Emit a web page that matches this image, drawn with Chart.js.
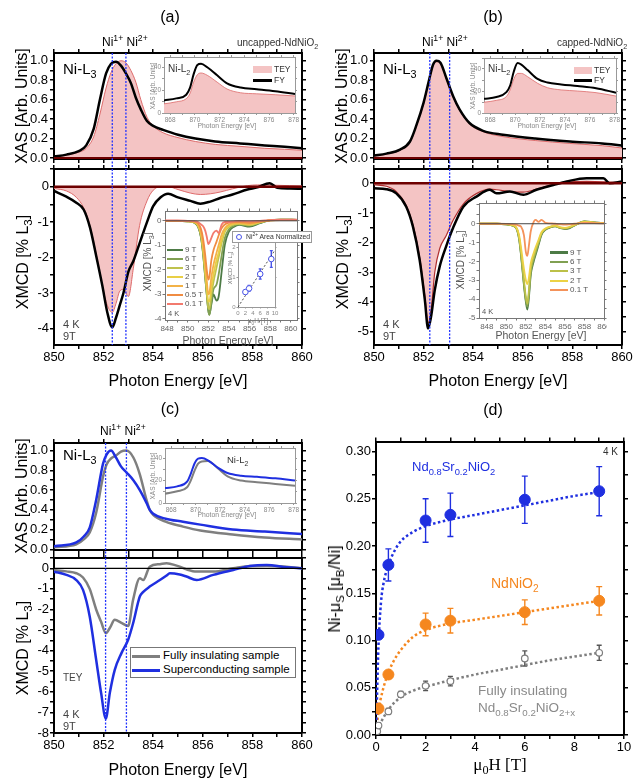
<!DOCTYPE html>
<html>
<head>
<meta charset="utf-8">
<script src="https://cdn.jsdelivr.net/npm/chart.js@4.4.0/dist/chart.umd.min.js"></script>
<style>
  body { margin: 0; background: #fff; }
  #fig { position: relative; width: 641px; height: 779px; overflow: hidden; font-family: "Liberation Sans", Arial, sans-serif; color: #000; }
  canvas { position: absolute; }
  .t { position: absolute; white-space: nowrap; line-height: 1; }
  .t sub, .t sup { font-size: 72%; line-height: 0; }
  .box { position: absolute; }
</style>
</head>
<body>
<div id="fig"></div>
<script>
// ---- (a) uncapped NdNiO2, Ni-L3 XAS ----
const aXasE = [850, 850.5, 851, 851.3, 851.6, 851.85, 852.1, 852.3, 852.5, 852.7, 852.9, 853.1, 853.3, 853.5, 853.75, 854, 854.4, 855, 855.7, 856.5, 857.5, 858.5, 859.3, 860];
const aXasFY = [0.015, 0.035, 0.07, 0.13, 0.3, 0.6, 0.87, 0.97, 0.99, 0.95, 0.87, 0.77, 0.62, 0.5, 0.38, 0.33, 0.29, 0.24, 0.2, 0.17, 0.15, 0.13, 0.115, 0.1];
const aXasTEY = [0.01, 0.03, 0.06, 0.1, 0.22, 0.45, 0.72, 0.88, 0.97, 1.0, 0.98, 0.9, 0.78, 0.6, 0.42, 0.33, 0.26, 0.21, 0.17, 0.14, 0.12, 0.1, 0.09, 0.08];
// (a) XMCD at 9 T
const aMcdE = [850, 850.5, 850.9, 851.2, 851.45, 851.7, 851.95, 852.15, 852.35, 852.5, 852.65, 852.8, 853.0, 853.2, 853.45, 853.75, 854.0, 854.3, 854.6, 855.0, 855.5, 855.9, 856.3, 856.7, 857.2, 857.8, 858.2, 858.7, 859.0, 859.5, 860];
const aMcdFY = [-0.12, -0.28, -0.45, -0.65, -1.15, -1.95, -2.8, -3.55, -3.97, -3.7, -3.35, -3.0, -2.4, -2.1, -1.6, -1.0, -0.55, -0.3, -0.2, -0.3, -0.4, -0.48, -0.42, -0.32, -0.22, -0.08, -0.02, 0.1, -0.03, -0.05, -0.06];
const aMcdTEY = [-0.05, -0.12, -0.3, -0.6, -1.1, -1.9, -2.8, -3.35, -3.55, -3.3, -2.95, -2.9, -3.1, -2.3, -1.1, -0.4, -0.1, 0.0, 0.0, -0.08, -0.18, -0.22, -0.2, -0.15, -0.06, 0.03, 0.05, 0.05, 0.04, 0.03, 0.02];
const aRefE = [852.35, 852.9];

// ---- Ni-L2 insets (shared energy grid) ----
const l2E = [867.5, 868.5, 869.3, 869.6, 869.9, 870.2, 870.5, 871, 871.8, 872.6, 873.7, 875, 876.5, 878.1];
const aL2FY = [11, 12.8, 16, 22, 34, 42, 43, 40, 33, 26, 22.3, 20.8, 19, 16.6];
const aL2TEY = [8, 9.8, 12.5, 17, 27, 33.5, 35, 33, 27, 21, 17.7, 16.8, 16, 14.9];
const bL2FY = [12.9, 14.5, 19, 25, 38, 45.5, 44, 39, 31, 27.7, 26, 24.5, 22.5, 18.5];
const bL2TEY = [9.8, 11.5, 15, 21, 31, 36, 36, 33, 27, 23, 21, 20, 18.5, 15.4];
const cL2SC = [13.3, 14.8, 19, 26, 35, 39.5, 40, 38, 31.5, 26.7, 24.3, 23.3, 22, 20];
const cL2FI = [8.3, 10.4, 14, 20, 28.5, 35, 37, 37.5, 31, 23.7, 20, 18.5, 17, 15.4];

// ---- (a) inset: XMCD vs field ----
const aInsE = [847.8, 849, 850, 850.5, 851, 851.3, 851.5, 851.7, 851.85, 852, 852.1, 852.3, 852.5, 852.8, 853, 853.3, 853.6, 854, 854.5, 855, 856, 857, 858, 859, 860.6];
const aIns9T = [0, 0, -0.02, -0.05, -0.24, -0.7, -1.38, -2.3, -3.0, -3.66, -3.82, -3.4, -3.0, -3.26, -3.1, -2.05, -0.98, -0.44, -0.24, -0.17, -0.24, -0.1, 0.03, 0.05, 0.04];
const aIns6T = [0, 0, -0.02, -0.05, -0.22, -0.68, -1.35, -2.3, -3.0, -3.65, -3.85, -3.3, -2.8, -2.6, -2.2, -1.4, -0.7, -0.35, -0.2, -0.15, -0.2, -0.08, 0.03, 0.05, 0.04];
const aIns3T = [0, 0, -0.02, -0.05, -0.2, -0.6, -1.25, -2.2, -2.9, -3.55, -3.6, -3.0, -2.5, -1.9, -1.5, -0.9, -0.45, -0.25, -0.15, -0.12, -0.18, -0.06, 0.03, 0.05, 0.04];
const aIns2T = [0, 0, -0.02, -0.04, -0.18, -0.55, -1.15, -2.0, -2.7, -3.3, -3.3, -2.7, -2.2, -1.6, -1.3, -0.75, -0.4, -0.2, -0.12, -0.1, -0.15, -0.05, 0.02, 0.04, 0.04];
const aIns1T = [0, 0, -0.01, -0.03, -0.15, -0.5, -1.0, -1.8, -2.45, -3.0, -2.95, -2.3, -1.8, -1.3, -1.0, -0.55, -0.3, -0.15, -0.1, -0.08, -0.12, -0.04, 0.02, 0.04, 0.03];
const aIns05T = [0, 0, -0.01, -0.02, -0.1, -0.35, -0.75, -1.4, -2.0, -2.4, -2.3, -1.6, -1.2, -0.85, -0.6, -0.3, -0.15, -0.08, -0.05, -0.05, -0.08, -0.03, 0.02, 0.03, 0.03];
const aIns01T = [0.02, 0.02, 0.0, -0.01, -0.05, -0.15, -0.22, -0.4, -0.65, -0.95, -0.9, -0.7, -0.5, -0.4, -0.5, -0.15, -0.05, -0.05, -0.02, 0.0, -0.02, 0.0, 0.03, 0.05, 0.05];
const aInsLabels = ["9 T", "6 T", "3 T", "2 T", "1 T", "0.5 T", "0.1 T"];
const aInsColors = ["#4d7b46", "#80a052", "#bfc24e", "#e9cf45", "#f3b247", "#f08c42", "#f27a6e"];
// nested inset: Ni2+ area normalized
const nestH = [2, 3, 6, 9];
const nestV = [0.5, 0.62, 1.1, 1.6];
const nestErr = [0.08, 0.1, 0.17, 0.28];
const nestLineH = [0, 10];
const nestLineV = [0, 1.9];

// ---- (b) capped NdNiO2 ----
const bXasE = [850, 850.5, 851.05, 851.45, 851.7, 852, 852.2, 852.38, 852.52, 852.68, 852.92, 853.2, 853.45, 853.85, 854.4, 855.2, 856.5, 857.9, 859.2, 860];
const bXasFY = [0.024, 0.045, 0.086, 0.17, 0.33, 0.57, 0.78, 0.96, 1.0, 0.98, 0.82, 0.63, 0.5, 0.36, 0.28, 0.24, 0.2, 0.17, 0.15, 0.13];
const bXasTEY = [0.02, 0.04, 0.08, 0.16, 0.32, 0.56, 0.77, 0.95, 0.99, 0.97, 0.81, 0.62, 0.49, 0.35, 0.27, 0.22, 0.18, 0.15, 0.127, 0.103];
const bMcdE = [850, 850.5, 850.9, 851.3, 851.57, 851.84, 852.05, 852.18, 852.3, 852.45, 852.65, 852.92, 853.19, 853.6, 854.13, 854.67, 854.94, 855.48, 856.02, 856.55, 857.23, 857.77, 858.57, 859.25, 859.5, 860];
const bMcdFY = [-0.17, -0.2, -0.34, -0.79, -1.46, -2.58, -3.93, -4.89, -4.5, -3.6, -2.8, -2.1, -1.5, -0.79, -0.45, -0.22, -0.34, -0.28, -0.39, -0.22, -0.06, 0.06, 0.17, 0.17, 0.0, 0.06];
const bMcdTEY = [-0.05, -0.1, -0.28, -0.75, -1.4, -2.5, -3.8, -4.7, -4.3, -3.0, -2.2, -1.75, -1.25, -0.7, -0.35, -0.2, -0.22, -0.28, -0.3, -0.2, -0.04, 0.04, 0.06, 0.05, 0.04, 0.03];
const bRefE = [852.25, 853.05];
const bInsE = [847.2, 849, 850, 850.5, 851, 851.3, 851.5, 851.8, 852, 852.15, 852.3, 852.5, 852.8, 853, 853.3, 853.6, 854, 854.5, 855, 855.5, 856, 856.5, 857, 858, 859, 860];
const bIns9T = [0, 0, -0.03, -0.08, -0.23, -0.8, -1.65, -3.25, -4.15, -4.55, -3.97, -2.72, -2.0, -1.65, -1.12, -0.59, -0.32, -0.2, -0.14, -0.23, -0.28, -0.23, -0.09, 0.12, 0.07, 0.04];
const bIns6T = [0, 0, -0.03, -0.08, -0.22, -0.75, -1.6, -3.15, -4.05, -4.4, -3.8, -2.6, -1.9, -1.55, -1.05, -0.55, -0.3, -0.18, -0.13, -0.22, -0.26, -0.2, -0.08, 0.12, 0.07, 0.04];
const bIns3T = [0, 0, -0.03, -0.07, -0.2, -0.7, -1.5, -3.0, -3.9, -4.25, -3.6, -2.4, -1.75, -1.4, -0.95, -0.5, -0.28, -0.16, -0.12, -0.2, -0.24, -0.18, -0.07, 0.11, 0.06, 0.04];
const bIns2T = [0, 0, -0.02, -0.06, -0.18, -0.6, -1.25, -2.4, -3.0, -3.2, -2.9, -2.1, -1.55, -1.25, -0.85, -0.45, -0.25, -0.15, -0.1, -0.18, -0.22, -0.16, -0.06, 0.1, 0.06, 0.04];
const bIns01T = [0, 0, -0.01, -0.02, -0.05, -0.1, -0.15, -0.6, -1.5, -1.7, -1.2, -0.4, 0.1, 0.2, 0.1, 0.2, 0.05, 0.02, 0.0, -0.03, -0.05, -0.03, 0.0, 0.05, 0.03, 0.02];
const bInsLabels = ["9 T", "6 T", "3 T", "2 T", "0.1 T"];
const bInsColors = ["#4d7b46", "#80a052", "#bcc048", "#ecd245", "#f4925a"];

// ---- (c) fully insulating vs superconducting ----
const cXasE = [850, 850.9, 851.2, 851.44, 851.7, 851.98, 852.12, 852.3, 852.5, 852.7, 852.92, 853.2, 853.46, 853.73, 853.86, 854.0, 854.5, 855.2, 855.9, 857.2, 858.5, 860];
const cXasSC = [0.03, 0.07, 0.13, 0.22, 0.5, 0.87, 0.96, 1.0, 0.93, 0.84, 0.78, 0.7, 0.6, 0.47, 0.4, 0.36, 0.31, 0.28, 0.25, 0.2, 0.18, 0.155];
const cXasFI = [0.02, 0.05, 0.1, 0.17, 0.37, 0.74, 0.86, 0.92, 0.95, 0.99, 1.0, 0.93, 0.76, 0.5, 0.4, 0.35, 0.28, 0.23, 0.19, 0.15, 0.12, 0.1];
const cMcdE = [850, 850.5, 850.9, 851.17, 851.44, 851.7, 851.9, 852.09, 852.25, 852.45, 852.72, 852.99, 853.19, 853.46, 853.6, 853.86, 854.27, 854.54, 854.67, 855.07, 855.34, 855.75, 856.42, 857.23, 857.9, 858.57, 859.38, 860];
const cMcdSC = [-0.16, -0.32, -0.57, -1.05, -2.34, -4.44, -6.06, -7.3, -6.06, -4.93, -4.12, -3.47, -2.67, -1.37, -1.15, -0.89, -0.57, -0.35, -0.24, -0.3, -0.4, -0.57, -0.32, -0.08, 0.11, 0.16, 0.05, 0.0];
const cMcdFI = [-0.08, -0.15, -0.24, -0.45, -1.0, -2.0, -2.6, -3.15, -2.9, -2.5, -2.65, -2.8, -1.53, -0.48, -0.57, 0.08, 0.2, 0.24, 0.22, 0.08, -0.05, -0.16, -0.16, 0.0, 0.11, 0.12, 0.08, 0.0];
const cRefE = [852.08, 852.92];

// ---- (d) spin moment vs field ----
const dBlueH = [0.1, 0.5, 2, 3, 6, 9];
const dBlueV = [0.106, 0.18, 0.227, 0.233, 0.249, 0.258];
const dBlueErr = [0, 0.017, 0.023, 0.023, 0.025, 0.026];
const dOrangeH = [0.1, 0.5, 2, 3, 6, 9];
const dOrangeV = [0.028, 0.064, 0.117, 0.121, 0.13, 0.142];
const dOrangeErr = [0, 0, 0.012, 0.013, 0.013, 0.015];
const dGrayH = [0.05, 0.1, 0.5, 1, 2, 3, 6, 9];
const dGrayV = [0.004, 0.01, 0.025, 0.043, 0.052, 0.057, 0.081, 0.087];
const dGrayErr = [0, 0.003, 0.003, 0.003, 0.005, 0.005, 0.008, 0.008];
const dBlueFitH = [0, 0.05, 0.1, 0.2, 0.3, 0.5, 0.75, 1, 1.5, 2, 3, 4, 5, 6, 7, 8, 9];
const dBlueFitV = [0, 0.05, 0.095, 0.14, 0.16, 0.18, 0.195, 0.205, 0.215, 0.221, 0.228, 0.233, 0.238, 0.243, 0.248, 0.253, 0.257];
const dOrangeFitH = [0, 0.1, 0.25, 0.5, 0.75, 1, 1.5, 2, 3, 4, 5, 6, 7, 8, 9];
const dOrangeFitV = [0, 0.025, 0.045, 0.066, 0.08, 0.09, 0.104, 0.111, 0.118, 0.122, 0.126, 0.13, 0.134, 0.138, 0.142];
const dGrayFitH = [0, 0.1, 0.25, 0.5, 1, 1.5, 2, 3, 4, 5, 6, 7, 8, 9];
const dGrayFitV = [0, 0.008, 0.016, 0.027, 0.04, 0.047, 0.051, 0.058, 0.064, 0.069, 0.074, 0.079, 0.083, 0.087];

const BLUE = "#1f2fe0", ORANGE = "#f5871f", GRAY = "#7f7f7f";
const PINK = "#f4c4c4", PINKEDGE = "#dd6a6a", MAROON = "#6e0000";

const fig = document.getElementById("fig");
Chart.defaults.font.family = '"Liberation Sans", Arial, sans-serif';
Chart.defaults.color = "#000";

// reference lines: dotted Ni1+/Ni2+ markers and zero lines
Chart.register({
  id: "refs",
  afterDatasetsDraw(chart, args, o) {
    const { ctx, chartArea: a, scales } = chart;
    ctx.save();
    (o.h || []).forEach((v) => {
      const y = scales.y.getPixelForValue(v);
      ctx.strokeStyle = o.hColor || "#000";
      ctx.lineWidth = o.hWidth || 1;
      ctx.setLineDash([]);
      ctx.beginPath(); ctx.moveTo(a.left, y); ctx.lineTo(a.right, y); ctx.stroke();
    });
    (o.v || []).forEach((v) => {
      const x = scales.x.getPixelForValue(v);
      ctx.strokeStyle = "#2233ff";
      ctx.lineWidth = 1.3;
      ctx.setLineDash([2, 1.5]);
      ctx.beginPath(); ctx.moveTo(x, a.top); ctx.lineTo(x, a.bottom + (o.down || 0)); ctx.stroke();
    });
    ctx.restore();
  },
});

// error bars from dataset.errors
Chart.register({
  id: "errbars",
  beforeDatasetsDraw(chart) {
    const ctx = chart.ctx;
    chart.data.datasets.forEach((ds, i) => {
      if (!ds.errors) return;
      const meta = chart.getDatasetMeta(i);
      ctx.save();
      ctx.strokeStyle = ds.errColor || ds.borderColor;
      ctx.lineWidth = 1.4;
      meta.data.forEach((p, j) => {
        const e = ds.errors[j];
        if (!e) return;
        const v = ds.data[j].y;
        const y1 = chart.scales.y.getPixelForValue(v + e);
        const y2 = chart.scales.y.getPixelForValue(v - e);
        const c = ds.cap || 3;
        ctx.beginPath();
        ctx.moveTo(p.x, y1); ctx.lineTo(p.x, y2);
        ctx.moveTo(p.x - c, y1); ctx.lineTo(p.x + c, y1);
        ctx.moveTo(p.x - c, y2); ctx.lineTo(p.x + c, y2);
        ctx.stroke();
      });
      ctx.restore();
    });
  },
});

// white plot area for insets
Chart.register({
  id: "areabg",
  beforeDraw(chart, args, o) {
    if (!o.color) return;
    const a = chart.chartArea;
    chart.ctx.save();
    chart.ctx.fillStyle = o.color;
    chart.ctx.fillRect(a.left, a.top, a.right - a.left, a.bottom - a.top);
    chart.ctx.restore();
  },
});

function pts(xs, ys) {
  return xs.map((x, i) => ({ x: x, y: ys[i] }));
}

function ln(data, color, w, extra) {
  return Object.assign({ data: data, borderColor: color, backgroundColor: color, borderWidth: w, pointRadius: 0, fill: false, cubicInterpolationMode: "monotone" }, extra || {});
}

function dots(data, color, r, extra) {
  return Object.assign({ data: data, showLine: false, pointRadius: r, pointBackgroundColor: color, pointBorderColor: color, borderColor: color, backgroundColor: color, pointBorderWidth: 1 }, extra || {});
}

const evenLabel = (v) => (Math.round(v) % 2 === 0 ? String(v) : "");
const xasLabel = (v) => (Math.round(v * 10) % 2 === 0 ? v.toFixed(1) : "");
const intLabel = (v) => (Number.isInteger(v) ? String(v) : "");
const negIntLabel = (v) => (Number.isInteger(v) && v <= 0 ? String(v) : "");
const l2YLabel = (v) => (Math.round(v) % 20 === 0 ? String(v) : "");
const momLabel = (v) => (Math.round(v * 1000) % 50 === 0 ? v.toFixed(2) : "");

// box = [left, top, right, bottom] of plot area; m = [left, right, top, bottom] axis room
function plot(box, m, xs, ys, datasets, o) {
  o = o || {};
  const cv = document.createElement("canvas");
  cv.width = box[2] - box[0] + m[0] + m[1];
  cv.height = box[3] - box[1] + m[2] + m[3];
  cv.style.left = box[0] - m[0] + "px";
  cv.style.top = box[1] - m[2] + "px";
  fig.appendChild(cv);
  const col = o.frame || "#000";
  const grid = { drawOnChartArea: false, tickLength: o.tick || 4, color: col, lineWidth: o.tickW || 1.5 };
  const border = { width: o.bw || 2, color: col };
  const tk = (s, cb, show) => {
    const t = { stepSize: s, includeBounds: false, autoSkip: false, maxRotation: 0, minRotation: 0, padding: o.pad === undefined ? 2 : o.pad, color: o.tc || "#000", font: { size: o.fs || 13 }, display: show };
    if (cb) t.callback = cb;
    return t;
  };
  const fitH = (h) => (s) => { s.height = h; s.paddingLeft = 0; s.paddingRight = 0; };
  const fitW = (w) => (s) => { s.width = w; s.paddingTop = 0; s.paddingBottom = 0; };
  return new Chart(cv, {
    type: "line",
    data: { datasets: datasets },
    options: {
      responsive: false,
      animation: false,
      events: [],
      layout: { padding: 0 },
      plugins: {
        legend: { display: false },
        tooltip: { enabled: false },
        refs: o.refs || {},
        areabg: o.bg ? { color: o.bg } : {},
      },
      scales: {
        x: { type: "linear", position: "bottom", min: xs[0], max: xs[1], afterFit: fitH(m[3]), grid: grid, border: border, ticks: tk(xs[2], xs[3], o.xlab !== false) },
        x2: { type: "linear", position: "top", min: xs[0], max: xs[1], afterFit: fitH(m[2]), grid: grid, border: border, ticks: tk(xs[2], null, false) },
        y: { type: "linear", position: "left", min: ys[0], max: ys[1], afterFit: fitW(m[0]), grid: grid, border: border, ticks: tk(ys[2], ys[3], true) },
        y2: { type: "linear", position: "right", min: ys[0], max: ys[1], afterFit: fitW(m[1]), grid: grid, border: border, ticks: tk(ys[2], null, false) },
      },
    },
  });
}

function txt(html, x, y, st) {
  const d = document.createElement("div");
  d.className = "t";
  d.innerHTML = html;
  d.style.cssText += "left:" + x + "px;top:" + y + "px;" + (st || "");
  fig.appendChild(d);
  return d;
}
function rect(x, y, w, h, st) {
  const d = document.createElement("div");
  d.className = "box";
  d.style.cssText = "left:" + x + "px;top:" + y + "px;width:" + w + "px;height:" + h + "px;" + st;
  fig.appendChild(d);
}
const C = "transform:translate(-50%,-50%);";
const R = "transform:translate(-50%,-50%) rotate(-90deg);";
const insetOpt = { frame: "#999", bw: 1, tick: 2, tickW: 1, fs: 6.5, tc: "#888", pad: 1, bg: "#fff" };
const mcdInsetOpt = { frame: "#777", bw: 1, tick: 2.5, tickW: 1, fs: 8, tc: "#666", pad: 1, bg: "#fff", refs: { h: [0], hColor: "#444", hWidth: 1 } };

// ================= panel (a) =================
plot([54, 53, 302, 159], [40, 6, 6, 10], [850, 860, 1, evenLabel], [-0.01, 1.08, 0.1, xasLabel], [
  ln(pts(aXasE, aXasFY), "#000", 2.5, { order: 0 }),
  ln(pts(aXasE, aXasTEY), PINKEDGE, 1, { order: 1, fill: "origin", backgroundColor: PINK }),
], { xlab: false, refs: { v: aRefE, down: 10, h: [0], hColor: MAROON, hWidth: 2 } });

plot([54, 169, 302, 345], [40, 16, 5, 45], [850, 860, 1, evenLabel], [-4.47, 0.5, 0.5, intLabel], [
  ln(pts(aMcdE, aMcdFY), "#000", 2.5, { order: 0 }),
  ln(pts(aMcdE, aMcdTEY), PINKEDGE, 1, { order: 1, fill: "origin", backgroundColor: PINK }),
], { pad: 1, refs: { v: aRefE, h: [0], hColor: MAROON, hWidth: 2.5 } });

plot([164, 57, 295, 113], [14, 8, 2, 10], [867.5, 878.1, 1, evenLabel], [0, 49, 10, l2YLabel], [
  ln(pts(l2E, aL2FY), "#000", 2, { order: 0 }),
  ln(pts(l2E, aL2TEY), PINKEDGE, 0.8, { order: 1, fill: "origin", backgroundColor: PINK }),
], insetOpt);

plot([165, 211, 297, 320], [12, 3, 3, 12], [847.8, 860.6, 1, evenLabel], [-4.05, 0.4, 0.5, negIntLabel],
  [aIns9T, aIns6T, aIns3T, aIns2T, aIns1T, aIns05T, aIns01T].map((v, i) => ln(pts(aInsE, v), aInsColors[i], 1.8, { order: 6 - i })),
  mcdInsetOpt);

plot([238, 238, 278, 307], [8, 2, 2, 9], [0, 10, 2], [0, 2.2, 1], [
  dots(pts(nestH, nestV), "#4a55e8", 2.8, { pointBackgroundColor: "#fff", errors: nestErr, cap: 1.5, order: 0 }),
  ln(pts(nestLineH, nestLineV), "#222", 0.8, { borderDash: [2, 2], order: 1 }),
], { frame: "#999", bw: 1, tick: 1.5, tickW: 1, fs: 6, tc: "#888", pad: 1, bg: "#fff" });

txt("(a)", 170, 17, C + "font-size:16px");
txt("Ni<sup>1+</sup> Ni<sup>2+</sup>", 102, 36, "font-size:12px");
txt("uncapped-NdNiO<sub>2</sub>", 237, 38, "font-size:10px;color:#333");
txt("Ni-L<sub>3</sub>", 63, 61, "font-size:15px");
txt("XAS [Arb. Units]", 22, 106, R + "font-size:16px");
txt("XMCD [% L<sub>3</sub>]", 23, 262, R + "font-size:16px");
txt("Photon Energy [eV]", 178, 381, C + "font-size:16px");
txt("4 K", 63, 319, "font-size:11px;color:#444");
txt("9T", 63, 331, "font-size:11px;color:#444");
txt("Ni-L<sub>2</sub>", 168, 64, "font-size:10px;color:#333");
rect(253, 66, 19, 7, "background:" + PINK);
txt("TEY", 274, 65, "font-size:8.5px;color:#333");
rect(253, 79, 19, 2.5, "background:#000");
txt("FY", 274, 76, "font-size:8.5px;color:#333");
txt("Photon Energy [eV]", 227, 125.5, C + "font-size:6.8px;color:#888");
txt("XAS [Arb. Units]", 153, 86, R + "font-size:6.5px;color:#888");
txt("Photon Energy [eV]", 228, 340, C + "font-size:10.5px;color:#555");
txt("XMCD [% L<sub>3</sub>]", 148, 262, R + "font-size:10px;color:#555");
txt("4 K", 168, 310, "font-size:7.5px;color:#555");
aInsLabels.forEach((s, i) => {
  const y = 250 + i * 9;
  rect(167, y - 1.2, 16, 2.4, "background:" + aInsColors[i]);
  txt(s, 185, y - 4, "font-size:8px;color:#555");
});
txt("μ<sub>0</sub>H [T]", 258, 321, C + "font-size:6.5px;color:#777");
txt("XMCD [% L<sub>3</sub>]", 230.5, 268, R + "font-size:5.5px;color:#777");
rect(232, 231, 80, 12, "background:#fff;border:1px solid #999;box-sizing:border-box");
rect(236, 234, 6, 6, "border:1px solid #4a55e8;border-radius:50%;box-sizing:border-box");
txt("Ni<sup>2+</sup> Area Normalized", 246, 233.5, "font-size:6.8px;color:#333");

// ================= panel (b) =================
plot([374, 53, 622, 159], [40, 6, 6, 10], [850, 860, 1, evenLabel], [-0.01, 1.08, 0.1, xasLabel], [
  ln(pts(bXasE, bXasFY), "#000", 2.5, { order: 0 }),
  ln(pts(bXasE, bXasTEY), PINKEDGE, 1, { order: 1, fill: "origin", backgroundColor: PINK }),
], { xlab: false, refs: { v: bRefE, down: 10, h: [0], hColor: MAROON, hWidth: 2 } });

plot([374, 169, 622, 345], [40, 16, 5, 45], [850, 860, 1, evenLabel], [-5.45, 0.48, 0.5, intLabel], [
  ln(pts(bMcdE, bMcdFY), "#000", 2.5, { order: 0 }),
  ln(pts(bMcdE, bMcdTEY), "#b03030", 1.2, { order: 1, fill: "origin", backgroundColor: PINK }),
], { pad: 1, refs: { v: bRefE, h: [0], hColor: MAROON, hWidth: 2.5 } });

plot([484, 58, 616, 113], [14, 8, 2, 10], [867.5, 878.1, 1, evenLabel], [0, 50, 10, l2YLabel], [
  ln(pts(l2E, bL2FY), "#000", 2, { order: 0 }),
  ln(pts(l2E, bL2TEY), PINKEDGE, 0.8, { order: 1, fill: "origin", backgroundColor: PINK }),
], insetOpt);

plot([479, 203, 604, 318], [12, 3, 3, 12], [847.2, 860, 1, evenLabel], [-5, 1.1, 0.5, negIntLabel],
  [bIns9T, bIns6T, bIns3T, bIns2T, bIns01T].map((v, i) => ln(pts(bInsE, v), bInsColors[i], 1.8, { order: 4 - i })),
  mcdInsetOpt);

txt("(b)", 493, 17, C + "font-size:16px");
txt("Ni<sup>1+</sup> Ni<sup>2+</sup>", 422, 36, "font-size:12px");
txt("capped-NdNiO<sub>2</sub>", 557, 38, "font-size:10px;color:#333");
txt("Ni-L<sub>3</sub>", 383, 61, "font-size:15px");
txt("XAS [Arb. Units]", 342, 106, R + "font-size:16px");
txt("XMCD [% L<sub>3</sub>]", 343, 262, R + "font-size:16px");
txt("Photon Energy [eV]", 498, 381, C + "font-size:16px");
txt("4 K", 383, 319, "font-size:11px;color:#444");
txt("9T", 383, 331, "font-size:11px;color:#444");
txt("Ni-L<sub>2</sub>", 488, 64, "font-size:10px;color:#333");
rect(574, 67, 18, 7, "background:" + PINK);
txt("TEY", 594, 66, "font-size:8.5px;color:#333");
rect(574, 79, 18, 2.5, "background:#000");
txt("FY", 594, 76, "font-size:8.5px;color:#333");
txt("Photon Energy [eV]", 547, 125.5, C + "font-size:6.8px;color:#888");
txt("XAS [Arb. Units]", 473, 86, R + "font-size:6.5px;color:#888");
txt("Photon Energy [eV]", 541, 335, C + "font-size:10.5px;color:#555");
txt("XMCD [% L<sub>3</sub>]", 461, 260, R + "font-size:10px;color:#555");
txt("4 K", 482, 308, "font-size:7.5px;color:#555");
bInsLabels.forEach((s, i) => {
  const y = 252.5 + i * 9.4;
  rect(550, y - 1.2, 18, 2.4, "background:" + bInsColors[i]);
  txt(s, 570, y - 4, "font-size:8px;color:#555");
});

// ================= panel (c) =================
plot([54, 443, 302, 550], [40, 6, 6, 8], [850, 860, 1, evenLabel], [-0.007, 1.077, 0.1, xasLabel], [
  ln(pts(cXasE, cXasSC), BLUE, 2.5, { order: 0 }),
  ln(pts(cXasE, cXasFI), GRAY, 2.5, { order: 1 }),
], { xlab: false, refs: { v: cRefE, down: 8 } });

plot([54, 558, 302, 733], [40, 16, 5, 45], [850, 860, 1, evenLabel], [-8, 0.5, 0.5, intLabel], [
  ln(pts(cMcdE, cMcdSC), BLUE, 2.5, { order: 0 }),
  ln(pts(cMcdE, cMcdFI), GRAY, 2.5, { order: 1 }),
], { pad: 1, refs: { v: cRefE, h: [0], hColor: "#000", hWidth: 1.2 } });

plot([165, 448, 295, 503], [14, 8, 2, 10], [867.5, 878.1, 1, evenLabel], [0, 49, 10, l2YLabel], [
  ln(pts(l2E, cL2SC), BLUE, 2, { order: 0 }),
  ln(pts(l2E, cL2FI), GRAY, 2, { order: 1 }),
], insetOpt);

txt("(c)", 170, 409, C + "font-size:16px");
txt("Ni<sup>1+</sup> Ni<sup>2+</sup>", 100, 425, "font-size:12px");
txt("Ni-L<sub>3</sub>", 63, 447, "font-size:15px");
txt("XAS [Arb. Units]", 22, 496, R + "font-size:16px");
txt("XMCD [% L<sub>3</sub>]", 23, 648, R + "font-size:16px");
txt("Photon Energy [eV]", 178, 770, C + "font-size:16px");
txt("TEY", 63, 673, "font-size:10px;color:#444");
txt("4 K", 63, 709, "font-size:11px;color:#444");
txt("9T", 63, 721, "font-size:11px;color:#444");
txt("Ni-L<sub>2</sub>", 227, 455, "font-size:9.5px;color:#333");
txt("Photon Energy [eV]", 227, 515, C + "font-size:6.8px;color:#888");
txt("XAS [Arb. Units]", 153, 476, R + "font-size:6.5px;color:#888");
rect(130, 647, 166, 31, "background:#fff;border:1px solid #777;box-sizing:border-box");
rect(132, 654.5, 28, 3, "background:" + GRAY);
txt("Fully insulating sample", 163, 650, "font-size:11.5px");
rect(132, 668.5, 28, 3, "background:" + BLUE);
txt("Superconducting sample", 163, 664, "font-size:11.5px");

// ================= panel (d) =================
plot([376, 441, 624, 735], [48, 14, 6, 40], [0, 10, 1, evenLabel], [0, 0.3106, 0.025, momLabel], [
  dots(pts(dBlueH, dBlueV), BLUE, 5.5, { errors: dBlueErr, order: 0 }),
  dots(pts(dOrangeH, dOrangeV), ORANGE, 5.5, { errors: dOrangeErr, order: 1 }),
  dots(pts(dGrayH, dGrayV), GRAY, 3.3, { pointBackgroundColor: "#fff", pointBorderWidth: 1.2, errors: dGrayErr, errColor: "#555", cap: 2.5, order: 2 }),
  ln(pts(dBlueFitH, dBlueFitV), BLUE, 2.5, { borderDash: [2.5, 2.5], order: 3 }),
  ln(pts(dOrangeFitH, dOrangeFitV), ORANGE, 2.5, { borderDash: [2.5, 2.5], order: 4 }),
  ln(pts(dGrayFitH, dGrayFitV), GRAY, 2.5, { borderDash: [2.5, 2.5], order: 5 }),
], { pad: 1 });

txt("(d)", 493, 410, C + "font-size:16px");
txt("Ni-μ<sub>S</sub> [μ<sub>B</sub>/Ni]", 335, 589, R + "font-size:16px");
txt("μ<sub>0</sub>H [T]", 500, 764, C + "font-size:17px;font-family:'Liberation Serif',serif");
txt("4 K", 603, 447, "font-size:10px;color:#333");
txt("Nd<sub>0.8</sub>Sr<sub>0.2</sub>NiO<sub>2</sub>", 412, 460, "font-size:13px;color:" + BLUE);
txt("NdNiO<sub>2</sub>", 491, 576, "font-size:14px;color:" + ORANGE);
txt("Fully insulating", 478, 684, "font-size:13.5px;color:#8a8a8a");
txt("Nd<sub>0.8</sub>Sr<sub>0.2</sub>NiO<sub>2+x</sub>", 478, 701, "font-size:13.5px;color:#8a8a8a");
</script>
</body>
</html>
